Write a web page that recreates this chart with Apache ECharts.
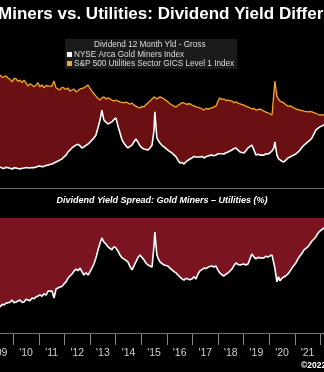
<!DOCTYPE html>
<html>
<head>
<meta charset="utf-8">
<script src="https://cdn.jsdelivr.net/npm/echarts@6/dist/echarts.min.js"></script>
<style>
  html, body { margin: 0; padding: 0; background: #000; }
  #chart { width: 324px; height: 372px; }
</style>
</head>
<body>
<div id="chart"></div>
<script>
// Sample dates as decimal years
const years = [
  2009.48,2009.56,2009.64,2009.72,2009.79,2009.87,2009.95,2010.03,2010.11,2010.18,
  2010.26,2010.34,2010.42,2010.50,2010.57,2010.65,2010.73,2010.81,2010.89,2010.96,
  2011.04,2011.12,2011.20,2011.28,2011.36,2011.43,2011.51,2011.59,2011.67,2011.74,
  2011.82,2011.90,2011.98,2012.06,2012.14,2012.21,2012.29,2012.37,2012.45,2012.53,
  2012.61,2012.68,2012.76,2012.84,2012.92,2013.00,2013.07,2013.15,2013.23,2013.31,
  2013.39,2013.46,2013.54,2013.62,2013.70,2013.77,2013.85,2013.93,2014.01,2014.09,
  2014.17,2014.24,2014.32,2014.40,2014.48,2014.56,2014.64,2014.71,2014.79,2014.87,
  2014.95,2015.03,2015.11,2015.18,2015.26,2015.34,2015.42,2015.50,2015.53,2015.61,
  2015.67,2015.73,2015.81,2015.89,2015.96,2016.04,2016.12,2016.20,2016.28,2016.36,
  2016.44,2016.51,2016.59,2016.67,2016.75,2016.82,2016.90,2016.98,2017.06,2017.14,
  2017.21,2017.29,2017.37,2017.45,2017.53,2017.61,2017.68,2017.76,2017.84,2017.92,
  2018.00,2018.07,2018.15,2018.23,2018.31,2018.39,2018.46,2018.54,2018.62,2018.70,
  2018.78,2018.86,2018.93,2019.01,2019.09,2019.17,2019.24,2019.32,2019.40,2019.48,
  2019.56,2019.64,2019.71,2019.79,2019.87,2019.95,2020.03,2020.11,2020.18,2020.22,
  2020.30,2020.36,2020.42,2020.49,2020.57,2020.65,2020.73,2020.81,2020.89,2020.96,
  2021.04,2021.12,2021.20,2021.28,2021.36,2021.43,2021.51,2021.59,2021.67,2021.75,
  2021.82,2021.90,2021.98,2022.06,2022.14
];

// Dividend 12 month yield (%), S&P 500 Utilities
const utilitiesYield = [
  4.29,4.20,4.22,4.26,4.18,4.12,4.03,4.16,4.14,4.05,
  4.10,4.00,4.10,3.98,3.87,3.96,3.91,3.84,3.91,4.00,
  3.84,3.92,3.80,3.90,3.87,3.80,3.87,4.06,3.80,3.76,
  3.72,3.82,3.80,3.74,3.80,3.68,3.72,3.76,3.65,3.70,
  3.76,3.70,3.80,3.86,3.91,3.78,3.68,3.58,3.49,3.40,
  3.34,3.42,3.46,3.38,3.42,3.36,3.34,3.30,3.34,3.30,
  3.27,3.25,3.23,3.26,3.23,3.18,3.23,3.15,3.11,3.06,
  3.04,3.10,3.08,3.16,3.23,3.30,3.38,3.46,3.42,3.38,
  3.42,3.46,3.42,3.38,3.32,3.27,3.20,3.15,3.10,3.08,
  3.14,3.19,3.24,3.23,3.18,3.15,3.20,3.15,3.12,3.08,
  3.02,3.04,3.00,2.96,3.02,3.00,3.06,3.04,3.08,3.11,
  3.30,3.42,3.36,3.38,3.32,3.34,3.36,3.30,3.24,3.27,
  3.22,3.19,3.16,3.15,3.10,3.08,3.04,3.00,3.02,2.96,
  2.98,3.00,2.95,2.92,2.88,2.85,2.82,2.77,2.70,4.06,
  3.49,3.38,3.30,3.26,3.23,3.16,3.11,3.12,3.08,3.04,
  3.00,2.98,2.96,2.94,2.92,2.90,2.89,2.91,2.89,2.86,
  2.85,2.80,2.77,2.79,2.77
];

// Dividend 12 month yield (%), NYSE Arca Gold Miners
const goldMinersYield = [
  0.80,0.76,0.74,0.79,0.78,0.75,0.72,0.77,0.76,0.74,
  0.72,0.75,0.76,0.78,0.74,0.76,0.78,0.77,0.80,0.79,
  0.84,0.81,0.82,0.86,0.87,0.85,0.91,0.95,0.99,1.00,
  1.06,1.10,1.18,1.25,1.37,1.42,1.52,1.58,1.63,1.66,
  1.60,1.52,1.56,1.62,1.67,1.74,1.82,1.90,2.01,2.30,
  2.58,2.96,2.58,2.50,2.43,2.38,2.51,2.60,2.66,2.35,
  2.09,1.85,1.71,1.60,1.52,1.58,1.63,1.75,1.86,1.74,
  1.60,1.52,1.48,1.46,1.44,1.52,1.63,2.20,2.89,1.90,
  1.80,1.71,1.62,1.56,1.50,1.44,1.38,1.33,1.26,1.18,
  1.05,0.95,0.97,0.91,1.00,1.06,1.10,1.14,1.20,1.18,
  1.14,1.18,1.20,1.14,1.19,1.22,1.20,1.25,1.22,1.25,
  1.30,1.33,1.30,1.29,1.34,1.37,1.40,1.44,1.50,1.52,
  1.44,1.37,1.35,1.33,1.42,1.52,1.56,1.63,1.45,1.25,
  1.28,1.25,1.27,1.25,1.30,1.29,1.34,1.41,1.52,1.75,
  1.25,1.12,1.06,1.02,0.99,1.06,1.14,1.18,1.22,1.25,
  1.29,1.36,1.44,1.55,1.63,1.68,1.75,1.82,1.90,2.06,
  2.20,2.26,2.32,2.36,2.39
];

// Dividend yield spread: gold miners minus utilities (%)
const yieldSpread = [
  -3.48,-3.38,-3.40,-3.33,-3.29,-3.30,-3.21,-3.32,-3.29,-3.24,
  -3.21,-3.30,-3.29,-3.18,-3.21,-3.24,-3.13,-3.16,-3.09,-3.12,
  -3.01,-3.06,-2.97,-3.02,-2.86,-2.92,-2.86,-3.13,-2.78,-2.84,
  -2.70,-2.68,-2.58,-2.50,-2.35,-2.30,-2.19,-2.08,-2.00,-2.06,
  -1.96,-2.10,-2.23,-2.14,-2.23,-2.10,-2.03,-1.80,-1.56,-1.25,
  -0.98,-0.78,-0.94,-1.02,-1.13,-1.20,-1.25,-1.12,-1.17,-1.30,
  -1.45,-1.55,-1.60,-1.66,-1.72,-1.90,-2.03,-1.88,-1.72,-1.55,
  -1.45,-1.55,-1.64,-1.76,-1.84,-1.88,-1.92,-1.06,-0.55,-1.45,
  -1.60,-1.72,-1.78,-1.84,-1.82,-1.88,-1.96,-2.03,-2.10,-2.15,
  -2.24,-2.31,-2.38,-2.43,-2.36,-2.35,-2.42,-2.39,-2.30,-2.39,
  -2.20,-2.07,-2.02,-1.96,-1.98,-1.92,-1.95,-1.88,-1.92,-1.88,
  -2.05,-2.15,-2.22,-2.27,-2.20,-2.15,-2.08,-2.00,-1.86,-1.76,
  -1.82,-1.84,-1.78,-1.80,-1.84,-1.80,-1.62,-1.41,-1.52,-1.60,
  -1.54,-1.56,-1.52,-1.56,-1.50,-1.53,-1.48,-1.45,-1.49,-1.96,
  -2.50,-2.30,-2.46,-2.36,-2.31,-2.26,-2.19,-2.08,-1.96,-1.86,
  -1.76,-1.60,-1.49,-1.38,-1.25,-1.20,-1.13,-1.02,-0.90,-0.82,
  -0.74,-0.60,-0.51,-0.45,-0.39
];

// Year axis: ticks on each Jan 1st, label for each year centred within it
const yearLabels = ["'09","'10","'11","'12","'13","'14","'15","'16","'17","'18","'19","'20","'21"];
const FIRST_YEAR = 2009;

const GOLD_NAME = 'NYSE Arca Gold Miners Index';
const UTIL_NAME = 'S&P 500 Utilities Sector GICS Level 1 Index';
const SANS = "'Liberation Sans', Arial, sans-serif";

// The visible window starts mid-2009; the axis starts on Jan 1st 2009 to the left of the canvas
const X_MIN = FIRST_YEAR, X_MAX = 2022.14, VISIBLE_START = 2009.48;
const WIDTH = 324;
const PX_PER_YEAR = WIDTH / (X_MAX - VISIBLE_START);
const GRID_LEFT = -(VISIBLE_START - X_MIN) * PX_PER_YEAR;

const pairs = arr => years.map((y, i) => [y, arr[i]]);

const chart = echarts.init(document.getElementById('chart'), null, { renderer: 'canvas' });

chart.setOption({
  backgroundColor: '#000',
  animation: false,
  grid: [
    // upper panel: the two yields
    { left: GRID_LEFT, right: 0, top: 30, bottom: 184, show: false, outerBoundsMode: 'none', containLabel: false },
    // lower panel: the spread
    { left: GRID_LEFT, right: 0, top: 218, bottom: 39, show: true, backgroundColor: '#7a1421', borderWidth: 0,
      outerBoundsMode: 'none', containLabel: false },
    // year strip under the lower panel: tick marks and year labels
    { left: GRID_LEFT, right: 0, top: 334, bottom: 27, show: false, outerBoundsMode: 'none', containLabel: false }
  ],
  xAxis: [
    {
      gridIndex: 0, type: 'value', min: X_MIN, max: X_MAX, interval: 1,
      axisLine: { show: true, onZero: false, lineStyle: { color: '#8c8c8c', width: 1.5 } },
      axisTick: { show: false }, axisLabel: { show: false }, splitLine: { show: false }
    },
    {
      gridIndex: 1, type: 'value', min: X_MIN, max: X_MAX, interval: 1,
      axisLine: { show: true, onZero: false, lineStyle: { color: '#9a9a9a', width: 1.5 } },
      axisTick: { show: false }, axisLabel: { show: false }, splitLine: { show: false }
    },
    {
      gridIndex: 2, type: 'value', min: X_MIN, max: X_MAX, interval: 1,
      axisLine: { show: false }, axisTick: { show: false },
      splitLine: { show: true, lineStyle: { color: '#8a8a8a', width: 1 } },
      axisLabel: {
        formatter: v => {
          const i = Math.round(v) - FIRST_YEAR;
          return i >= 0 && i < yearLabels.length ? yearLabels[i] : '';
        },
        align: 'center',
        padding: [0, 0, 0, PX_PER_YEAR],
        color: '#d0d0d0', fontSize: 10.5, fontFamily: SANS, margin: 3,
        showMinLabel: true, showMaxLabel: false, hideOverlap: false
      }
    }
  ],
  yAxis: [
    { gridIndex: 0, type: 'value', min: 0, max: 6, show: false, splitLine: { show: false } },
    { gridIndex: 1, type: 'value', min: -4.5, max: 0, show: false, splitLine: { show: false } },
    { gridIndex: 2, type: 'value', min: 0, max: 1, show: false, splitLine: { show: false } }
  ],
  legend: {
    data: [GOLD_NAME, UTIL_NAME],
    orient: 'vertical',
    left: 65, top: 39,
    padding: [11, 3, 1, 2],
    itemGap: 0,
    itemWidth: 5, itemHeight: 5,
    icon: 'rect',
    selectedMode: false,
    backgroundColor: 'rgba(32,32,32,0.85)',
    textStyle: { color: '#dcdcdc', fontSize: 8.2, lineHeight: 9, fontFamily: SANS, padding: [0, 0, 0, -3] }
  },
  graphic: [
    {
      type: 'text', left: -2, top: 6, z: 100,
      style: { text: 'Miners vs. Utilities: Dividend Yield Difference', fill: '#ffffff',
               font: "bold 17px 'Liberation Sans', Arial, sans-serif" }
    },
    {
      type: 'text', left: 94, top: 41, z: 100,
      style: { text: 'Dividend 12 Month Yld - Gross', fill: '#dcdcdc',
               font: "8.2px 'Liberation Sans', Arial, sans-serif" }
    },
    {
      type: 'text', left: 'center', top: 196, z: 100,
      style: { text: 'Dividend Yield Spread: Gold Miners \u2013 Utilities (%)', fill: '#ffffff',
               font: "italic bold 9px 'Liberation Sans', Arial, sans-serif" }
    },
    {
      type: 'text', left: 301, top: 361, z: 100,
      style: { text: '\u00a92022', fill: '#ffffff', font: "bold 8.5px 'Liberation Sans', Arial, sans-serif" }
    }
  ],
  series: [
    {
      name: UTIL_NAME, type: 'line', xAxisIndex: 0, yAxisIndex: 0,
      data: pairs(utilitiesYield), symbol: 'none', color: '#f4a52a',
      lineStyle: { color: '#f4a52a', width: 1.3 },
      areaStyle: { color: '#6b1012', opacity: 1, origin: 'start' },
      z: 1
    },
    {
      name: GOLD_NAME, type: 'line', xAxisIndex: 0, yAxisIndex: 0,
      data: pairs(goldMinersYield), symbol: 'none', color: '#ffffff',
      lineStyle: { color: '#ffffff', width: 1.6 },
      areaStyle: { color: '#000000', opacity: 1, origin: 'start' },
      z: 1
    },
    {
      name: 'Spread', type: 'line', xAxisIndex: 1, yAxisIndex: 1,
      data: pairs(yieldSpread), symbol: 'none', color: '#ffffff',
      lineStyle: { color: '#ffffff', width: 1.6 },
      areaStyle: { color: '#000000', opacity: 1, origin: 'start' },
      z: 1
    }
  ]
});
</script>
</body>
</html>
